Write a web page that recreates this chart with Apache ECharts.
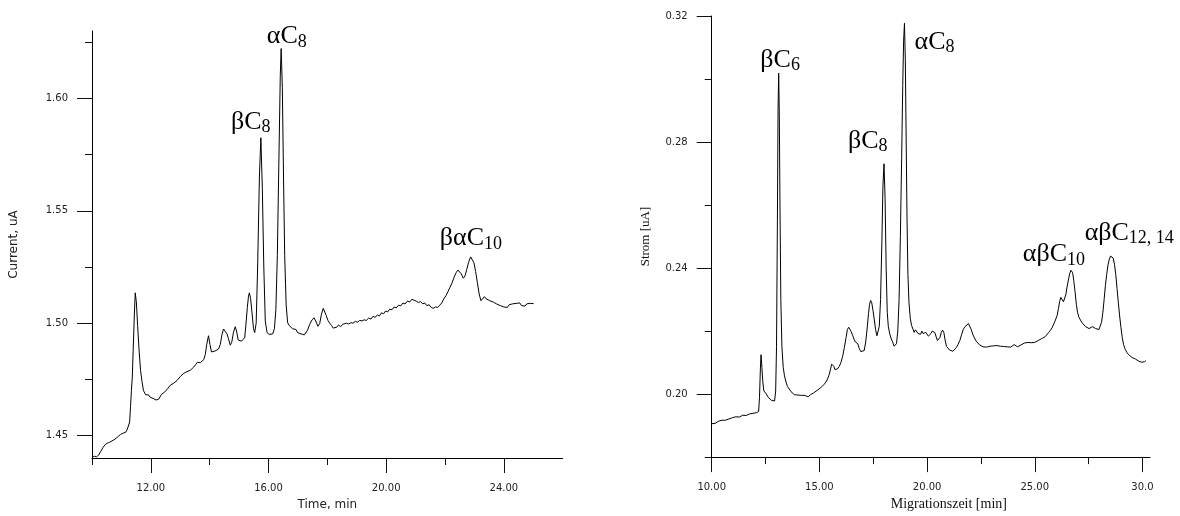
<!DOCTYPE html>
<html>
<head>
<meta charset="utf-8">
<script src="https://cdn.jsdelivr.net/npm/echarts@6/dist/echarts.min.js"></script>
<style>
  html, body { margin: 0; padding: 0; background: #fff; }
  #chart { width: 1180px; height: 516px; }
</style>
</head>
<body>
<div id="chart"></div>
<script>
// Electropherogram A: time [min] vs. current [uA]
const leftTrace = [
  [10.00,1.4403],[10.08,1.4408],[10.15,1.4405],[10.22,1.4412],[10.30,1.4430],[10.38,1.4448],
  [10.45,1.4460],[10.52,1.4466],[10.60,1.4470],[10.68,1.4476],[10.75,1.4481],[10.82,1.4488],
  [10.90,1.4497],[10.97,1.4505],[11.05,1.4510],[11.10,1.4518],[11.15,1.4515],[11.20,1.4528],
  [11.24,1.4522],[11.28,1.4560],[11.31,1.4630],[11.34,1.4700],[11.37,1.4760],[11.40,1.4880],
  [11.44,1.5040],[11.47,1.5135],[11.51,1.5090],[11.55,1.4990],[11.60,1.4880],[11.65,1.4790],
  [11.70,1.4740],[11.75,1.4700],[11.82,1.4682],[11.88,1.4675],[11.93,1.4680],[11.98,1.4670],
  [12.03,1.4676],[12.08,1.4665],[12.13,1.4670],[12.18,1.4658],[12.22,1.4650],[12.27,1.4662],
  [12.32,1.4670],[12.36,1.4683],[12.41,1.4676],[12.46,1.4692],[12.52,1.4700],[12.57,1.4708],
  [12.62,1.4712],[12.67,1.4725],[12.72,1.4720],[12.78,1.4733],[12.84,1.4736],[12.89,1.4745],
  [12.95,1.4750],[13.00,1.4762],[13.05,1.4760],[13.10,1.4775],[13.16,1.4780],[13.22,1.4784],
  [13.28,1.4783],[13.34,1.4790],[13.40,1.4795],[13.46,1.4805],[13.52,1.4815],[13.58,1.4826],
  [13.63,1.4820],[13.68,1.4824],[13.74,1.4822],[13.80,1.4838],[13.85,1.4860],[13.90,1.4905],
  [13.96,1.4944],[14.01,1.4905],[14.06,1.4872],[14.12,1.4866],[14.18,1.4876],[14.24,1.4872],
  [14.30,1.4885],[14.36,1.4905],[14.42,1.4950],[14.47,1.4974],[14.53,1.4966],[14.59,1.4952],
  [14.64,1.4930],[14.70,1.4902],[14.75,1.4915],[14.81,1.4960],[14.87,1.4984],[14.92,1.4960],
  [14.97,1.4925],[15.02,1.4917],[15.08,1.4920],[15.14,1.4918],[15.19,1.4935],[15.23,1.4990],
  [15.28,1.5070],[15.32,1.5120],[15.35,1.5135],[15.39,1.5110],[15.44,1.5045],[15.49,1.4975],
  [15.53,1.4958],[15.58,1.5000],[15.63,1.5250],[15.69,1.5650],[15.74,1.5825],[15.79,1.5600],
  [15.84,1.5250],[15.89,1.5010],[15.95,1.4958],[16.02,1.4950],[16.08,1.4946],[16.14,1.4952],
  [16.20,1.4975],[16.25,1.5060],[16.30,1.5300],[16.35,1.5700],[16.40,1.6100],[16.43,1.6222],
  [16.47,1.6050],[16.51,1.5650],[16.55,1.5300],[16.60,1.5080],[16.65,1.5002],[16.70,1.4990],
  [16.76,1.4982],[16.82,1.4975],[16.88,1.4968],[16.93,1.4972],[16.99,1.4958],[17.05,1.4963],
  [17.11,1.4952],[17.17,1.4956],[17.22,1.4948],[17.27,1.4952],[17.33,1.4970],[17.40,1.4995],
  [17.48,1.5015],[17.55,1.5024],[17.62,1.5005],[17.68,1.4986],[17.74,1.4998],[17.80,1.5040],
  [17.86,1.5066],[17.91,1.5062],[17.96,1.5035],[18.02,1.5012],[18.08,1.5000],[18.14,1.4990],
  [18.20,1.4978],[18.26,1.4986],[18.32,1.4982],[18.38,1.4992],[18.45,1.4984],[18.52,1.4995],
  [18.58,1.4990],[18.65,1.5000],[18.72,1.4996],[18.80,1.5002],[18.87,1.5000],[18.95,1.5008],
  [19.02,1.5004],[19.10,1.5012],[19.18,1.5010],[19.25,1.5015],[19.32,1.5012],[19.40,1.5022],
  [19.48,1.5018],[19.55,1.5030],[19.62,1.5026],[19.70,1.5036],[19.77,1.5032],[19.84,1.5046],
  [19.91,1.5042],[19.98,1.5054],[20.05,1.5050],[20.12,1.5062],[20.20,1.5060],[20.27,1.5072],
  [20.34,1.5068],[20.42,1.5080],[20.50,1.5077],[20.57,1.5090],[20.64,1.5085],[20.72,1.5098],
  [20.80,1.5094],[20.87,1.5106],[20.95,1.5102],[21.02,1.5098],[21.10,1.5092],[21.17,1.5096],
  [21.24,1.5086],[21.31,1.5090],[21.38,1.5078],[21.46,1.5082],[21.53,1.5070],[21.60,1.5066],
  [21.68,1.5072],[21.75,1.5070],[21.82,1.5080],[21.89,1.5090],[21.96,1.5108],[22.03,1.5122],
  [22.10,1.5140],[22.17,1.5160],[22.24,1.5180],[22.31,1.5205],[22.38,1.5225],[22.44,1.5236],
  [22.50,1.5230],[22.55,1.5220],[22.62,1.5200],[22.68,1.5210],[22.74,1.5240],[22.80,1.5270],
  [22.87,1.5295],[22.92,1.5298],[22.98,1.5270],[23.04,1.5230],[23.10,1.5180],[23.16,1.5130],
  [23.22,1.5100],[23.28,1.5105],[23.34,1.5118],[23.40,1.5108],[23.46,1.5112],[23.52,1.5100],
  [23.58,1.5106],[23.64,1.5094],[23.70,1.5098],[23.76,1.5085],[23.82,1.5090],[23.88,1.5078],
  [23.94,1.5082],[24.00,1.5072],[24.06,1.5080],[24.12,1.5070],[24.18,1.5082],[24.24,1.5074],
  [24.30,1.5086],[24.36,1.5078],[24.42,1.5088],[24.48,1.5080],[24.54,1.5090],[24.60,1.5078],
  [24.66,1.5084],[24.72,1.5076],[24.78,1.5086],[24.84,1.5078],[24.90,1.5088],[24.96,1.5082],
  [25.01,1.5087]
];

// Electropherogram B: Migrationszeit [min] vs. Strom [uA]
const rightTrace = [
  [10.00,0.1906],[10.08,0.1908],[10.16,0.1907],[10.24,0.1912],[10.32,0.1914],[10.40,0.1913],
  [10.48,0.1917],[10.56,0.1919],[10.64,0.1917],[10.72,0.1922],[10.80,0.1921],[10.88,0.1924],
  [10.96,0.1925],[11.04,0.1924],[11.12,0.1928],[11.20,0.1929],[11.28,0.1927],[11.36,0.1931],
  [11.44,0.1933],[11.52,0.1936],[11.60,0.1932],[11.68,0.1938],[11.76,0.1937],[11.84,0.1941],
  [11.92,0.1939],[12.00,0.1942],[12.08,0.1941],[12.14,0.1943],[12.18,0.1945],[12.22,0.1990],
  [12.26,0.2080],[12.29,0.2125],[12.33,0.2085],[12.37,0.2042],[12.42,0.2010],[12.48,0.2012],
  [12.54,0.2000],[12.62,0.1990],[12.70,0.1984],[12.78,0.1980],[12.86,0.1977],[12.92,0.1978],
  [12.97,0.2010],[13.01,0.2150],[13.05,0.2550],[13.08,0.2900],[13.11,0.3019],[13.14,0.2880],
  [13.17,0.2600],[13.21,0.2300],[13.26,0.2150],[13.32,0.2085],[13.38,0.2058],[13.45,0.2038],
  [13.52,0.2024],[13.60,0.2016],[13.68,0.2008],[13.76,0.2002],[13.84,0.1998],[13.92,0.1995],
  [14.00,0.1997],[14.08,0.1994],[14.16,0.1996],[14.24,0.1993],[14.32,0.1996],[14.40,0.1994],
  [14.48,0.1991],[14.53,0.1992],[14.58,0.1998],[14.66,0.2002],[14.74,0.2004],[14.82,0.2008],
  [14.90,0.2012],[14.98,0.2016],[15.06,0.2020],[15.14,0.2026],[15.22,0.2031],[15.30,0.2038],
  [15.38,0.2048],[15.46,0.2063],[15.52,0.2080],[15.57,0.2095],[15.62,0.2099],[15.67,0.2088],
  [15.72,0.2078],[15.77,0.2075],[15.84,0.2080],[15.92,0.2088],[16.00,0.2100],[16.08,0.2120],
  [16.16,0.2148],[16.24,0.2180],[16.30,0.2205],[16.36,0.2212],[16.42,0.2210],[16.48,0.2198],
  [16.55,0.2185],[16.62,0.2172],[16.68,0.2165],[16.73,0.2168],[16.78,0.2160],[16.85,0.2145],
  [16.92,0.2135],[17.00,0.2130],[17.08,0.2138],[17.15,0.2165],[17.22,0.2210],[17.28,0.2255],
  [17.33,0.2285],[17.38,0.2297],[17.43,0.2290],[17.49,0.2265],[17.55,0.2235],[17.61,0.2205],
  [17.67,0.2185],[17.72,0.2180],[17.78,0.2215],[17.84,0.2300],[17.90,0.2480],[17.95,0.2660],
  [18.00,0.2731],[18.05,0.2620],[18.10,0.2400],[18.15,0.2260],[18.20,0.2215],[18.27,0.2190],
  [18.34,0.2175],[18.41,0.2164],[18.47,0.2152],[18.52,0.2148],[18.58,0.2160],[18.64,0.2200],
  [18.70,0.2300],[18.76,0.2500],[18.82,0.2750],[18.87,0.2980],[18.91,0.3120],[18.95,0.3177],
  [18.99,0.3060],[19.03,0.2800],[19.07,0.2550],[19.11,0.2380],[19.16,0.2290],[19.22,0.2240],
  [19.28,0.2218],[19.34,0.2212],[19.40,0.2196],[19.46,0.2204],[19.52,0.2198],[19.58,0.2192],
  [19.64,0.2196],[19.70,0.2190],[19.76,0.2200],[19.82,0.2192],[19.88,0.2198],[19.94,0.2196],
  [20.00,0.2190],[20.06,0.2184],[20.12,0.2186],[20.18,0.2192],[20.24,0.2200],[20.30,0.2203],
  [20.36,0.2195],[20.42,0.2182],[20.48,0.2170],[20.54,0.2168],[20.60,0.2180],[20.66,0.2196],
  [20.72,0.2203],[20.78,0.2195],[20.84,0.2170],[20.90,0.2152],[20.96,0.2146],[21.04,0.2140],
  [21.12,0.2138],[21.20,0.2136],[21.28,0.2142],[21.36,0.2148],[21.44,0.2158],[21.52,0.2170],
  [21.60,0.2188],[21.68,0.2205],[21.76,0.2214],[21.84,0.2220],[21.92,0.2224],[21.98,0.2218],
  [22.05,0.2205],[22.12,0.2190],[22.20,0.2178],[22.28,0.2168],[22.36,0.2162],[22.44,0.2156],
  [22.52,0.2155],[22.60,0.2150],[22.68,0.2153],[22.76,0.2149],[22.84,0.2151],[22.92,0.2152],
  [23.00,0.2149],[23.08,0.2153],[23.16,0.2150],[23.24,0.2154],[23.32,0.2151],[23.40,0.2152],
  [23.48,0.2148],[23.56,0.2151],[23.64,0.2154],[23.72,0.2150],[23.80,0.2152],[23.88,0.2149],
  [23.96,0.2154],[24.04,0.2157],[24.12,0.2153],[24.20,0.2150],[24.28,0.2152],[24.36,0.2156],
  [24.44,0.2159],[24.52,0.2162],[24.60,0.2166],[24.68,0.2164],[24.76,0.2161],[24.84,0.2163],
  [24.92,0.2166],[25.00,0.2164],[25.08,0.2168],[25.16,0.2170],[25.24,0.2172],[25.32,0.2176],
  [25.40,0.2180],[25.48,0.2182],[25.56,0.2188],[25.64,0.2195],[25.72,0.2202],[25.80,0.2210],
  [25.88,0.2222],[25.96,0.2235],[26.04,0.2250],[26.10,0.2272],[26.16,0.2295],[26.21,0.2307],
  [26.27,0.2302],[26.33,0.2293],[26.38,0.2295],[26.44,0.2315],[26.50,0.2340],[26.56,0.2362],
  [26.62,0.2382],[26.68,0.2393],[26.72,0.2394],[26.76,0.2385],[26.81,0.2360],[26.87,0.2325],
  [26.93,0.2285],[26.99,0.2258],[27.05,0.2244],[27.12,0.2235],[27.20,0.2226],[27.28,0.2220],
  [27.36,0.2214],[27.44,0.2210],[27.52,0.2208],[27.60,0.2212],[27.68,0.2214],[27.75,0.2212],
  [27.82,0.2208],[27.90,0.2206],[27.98,0.2205],[28.04,0.2210],[28.10,0.2228],[28.16,0.2258],
  [28.22,0.2300],[28.28,0.2345],[28.34,0.2380],[28.40,0.2410],[28.46,0.2428],[28.52,0.2438],
  [28.58,0.2440],[28.64,0.2432],[28.70,0.2412],[28.76,0.2380],[28.82,0.2335],[28.88,0.2290],
  [28.94,0.2248],[29.00,0.2212],[29.06,0.2180],[29.12,0.2158],[29.20,0.2142],[29.28,0.2132],
  [29.36,0.2125],[29.44,0.2120],[29.52,0.2116],[29.60,0.2113],[29.68,0.2111],[29.76,0.2108],
  [29.84,0.2104],[29.92,0.2102],[29.97,0.2101],[30.04,0.2104],[30.10,0.2103],[30.16,0.2106]
];

// Axis ranges and tick positions
const leftXRange = [10, 26];
const leftYRange = [1.44, 1.63];
const leftXMajor = [12, 16, 20, 24];
const leftXMinor = [10, 14, 18, 22];
const leftYMajor = [1.45, 1.50, 1.55, 1.60];
const leftYMinor = [1.475, 1.525, 1.575, 1.625];

const rightXRange = [10, 30.35];
const rightYRange = [0.18, 0.32];
const rightXMajor = [10, 15, 20, 25, 30];
const rightXTickLabels = ['10.00', '15.00', '20.00', '25.00', '30.0'];
const rightXMinor = [12.5, 17.5, 22.5, 27.5];
const rightYMajor = [0.20, 0.24, 0.28, 0.32];
const rightYMinor = [0.18, 0.22, 0.26, 0.30];

// Peak annotations: [main text, subscript, x, y at text baseline]
const leftPeaks = [
  ['αC', '8', 15.96, 1.6243],
  ['βC', '8', 14.74, 1.5863],
  ['βαC', '10', 21.84, 1.5344]
];
const rightPeaks = [
  ['βC', '6', 12.28, 0.3037],
  ['βC', '8', 16.35, 0.2779],
  ['αC', '8', 19.44, 0.3094],
  ['αβC', '10', 24.47, 0.2419],
  ['αβC', '12, 14', 27.34, 0.2488]
];

const SANS = 'DejaVu Sans';
const SERIF = 'Liberation Serif';

function mainAxis(kind, gridIndex, range, major, labelFmt, name, nameStyle, nameGap, namePad) {
  return {
    type: 'value', gridIndex, min: range[0], max: range[1],
    position: kind === 'x' ? 'bottom' : 'left',
    name, nameLocation: 'middle', nameGap,
    nameTextStyle: Object.assign({ padding: namePad }, nameStyle),
    axisLine: { show: true, onZero: false, lineStyle: { color: '#000', width: 1 } },
    axisTick: { show: true, length: 15, inside: false, customValues: major,
                lineStyle: { color: '#111', width: 1 } },
    axisLabel: { show: true, customValues: major, margin: kind === 'x' ? 25 : 24,
                 fontFamily: SANS, fontSize: 10, color: '#222', formatter: labelFmt },
    splitLine: { show: false }
  };
}

function minorAxis(kind, gridIndex, range, minor) {
  return {
    type: 'value', gridIndex, min: range[0], max: range[1],
    position: kind === 'x' ? 'bottom' : 'left',
    axisLine: { show: false },
    axisTick: { show: true, length: 7, customValues: minor,
                lineStyle: { color: '#111', width: 1 } },
    axisLabel: { show: false },
    splitLine: { show: false }
  };
}

function peakMarks(peaks) {
  return {
    symbol: 'circle', symbolSize: 1,
    itemStyle: { color: 'rgba(0,0,0,0)' },
    label: {
      show: true, position: [0, 0], align: 'left', verticalAlign: 'bottom',
      offset: [0, 6],
      formatter: p => '{m|' + p.data.main + '}{s|' + p.data.sub + '}',
      rich: {
        m: { fontFamily: SERIF, fontSize: 26, color: '#000', lineHeight: 26 },
        // subscript: top padding pushes the glyphs below the main baseline
        s: { fontFamily: SERIF, fontSize: 18, color: '#000', lineHeight: 12, padding: [11, 0, 0, 0] }
      }
    },
    data: peaks.map(p => ({ coord: [p[2], p[3]], main: p[0], sub: p[1] }))
  };
}

const chart = echarts.init(document.getElementById('chart'), null, { renderer: 'canvas' });

chart.setOption({
  animation: false,
  backgroundColor: '#fff',
  grid: [
    { left: 92, top: 31, right: 617.3, bottom: 55.3, containLabel: false },
    { left: 711.7, top: 16, right: 30, bottom: 52, containLabel: false }
  ],
  xAxis: [
    mainAxis('x', 0, leftXRange, leftXMajor, v => v.toFixed(2), 'Time, min',
             { fontFamily: SANS, fontSize: 12, color: '#222' }, 41, [0, 0, 0, 0]),
    minorAxis('x', 0, leftXRange, leftXMinor),
    mainAxis('x', 1, rightXRange, rightXMajor,
             v => rightXTickLabels[rightXMajor.indexOf(v)] ?? v.toFixed(2), 'Migrationszeit [min]',
             { fontFamily: SERIF, fontSize: 14, color: '#111' }, 37, [0, 0, 0, 36]),
    minorAxis('x', 1, rightXRange, rightXMinor)
  ],
  yAxis: [
    mainAxis('y', 0, leftYRange, leftYMajor, v => v.toFixed(2), 'Current, uA',
             { fontFamily: SANS, fontSize: 12, color: '#222' }, 72, [0, 0, 0, 0]),
    minorAxis('y', 0, leftYRange, leftYMinor),
    mainAxis('y', 1, rightYRange, rightYMajor, v => v.toFixed(2), 'Strom [uA]',
             { fontFamily: SERIF, fontSize: 13, color: '#111' }, 60, [0, 0, 0, 0]),
    minorAxis('y', 1, rightYRange, rightYMinor)
  ],
  series: [
    {
      type: 'line', xAxisIndex: 0, yAxisIndex: 0, data: leftTrace,
      showSymbol: false, smooth: false,
      lineStyle: { color: '#000', width: 1 },
      markPoint: peakMarks(leftPeaks)
    },
    {
      type: 'line', xAxisIndex: 2, yAxisIndex: 2, data: rightTrace,
      showSymbol: false, smooth: false,
      lineStyle: { color: '#000', width: 1 },
      markPoint: peakMarks(rightPeaks)
    }
  ]
});
</script>
</body>
</html>
